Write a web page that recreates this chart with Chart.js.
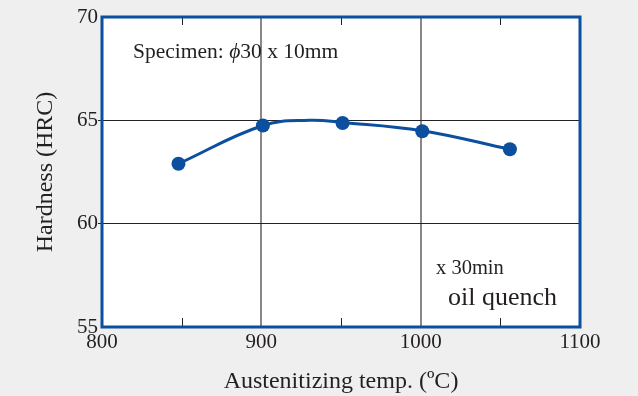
<!DOCTYPE html>
<html><head><meta charset="utf-8">
<script src="https://cdn.jsdelivr.net/npm/chart.js@4/dist/chart.umd.min.js"></script>
<style>html,body{margin:0;padding:0;background:#efefef;}#wrap{width:638px;height:396px;}</style>
</head><body><div id="wrap"><canvas id="c" width="638" height="396"></canvas></div>
<script>
// measured points
const temps = [848, 901, 951, 1001, 1056];
const hardness = [62.9, 64.75, 64.87, 64.47, 63.6];
// fitted curve
const curveTemps = [848, 901, 930, 951, 1001, 1056];
const curveHardness = [62.9, 64.75, 65.0, 64.9, 64.5, 63.6];
const xTicks = [800, 900, 1000, 1100];
const yTicks = [55, 60, 65, 70];
const minorX = [850, 950, 1050];
const xTitle = 'Austenitizing temp. (ºC)';
const yTitle = 'Hardness (HRC)';

const BLUE = '#0b4f9e';
const INK = '#231f20';
const SERIF = '"Liberation Serif", "DejaVu Serif", serif';

const frame = {
  id: 'frame',
  beforeDraw(chart) {
    const {ctx, chartArea: a} = chart;
    ctx.save();
    ctx.fillStyle = '#ffffff';
    ctx.fillRect(a.left, a.top, a.right - a.left, a.bottom - a.top);
    ctx.restore();
  },
  afterDatasetsDraw(chart) {
    const {ctx, chartArea: a, scales: {x}} = chart;
    ctx.save();
    ctx.strokeStyle = '#222'; ctx.lineWidth = 1;
    minorX.forEach(v => {
      const px = Math.round(x.getPixelForValue(v)) + 0.5;
      ctx.beginPath(); ctx.moveTo(px, a.bottom); ctx.lineTo(px, a.bottom - 9); ctx.stroke();
      ctx.beginPath(); ctx.moveTo(px, a.top); ctx.lineTo(px, a.top + 8); ctx.stroke();
    });
    ctx.strokeStyle = BLUE; ctx.lineWidth = 3;
    ctx.strokeRect(a.left, a.top, a.right - a.left, a.bottom - a.top);
    ctx.fillStyle = INK;
    ctx.textBaseline = 'middle';
    const sx = 133, sy = 52;
    ctx.font = '21.5px ' + SERIF;
    ctx.fillText('Specimen: ', sx, sy);
    let w = ctx.measureText('Specimen: ').width;
    ctx.font = 'italic 21.5px ' + SERIF;
    ctx.fillText('ϕ', sx + w, sy);
    w += ctx.measureText('ϕ').width;
    ctx.font = '21.5px ' + SERIF;
    ctx.fillText('30 x 10mm', sx + w, sy);
    ctx.font = '20.5px ' + SERIF;
    ctx.fillText('x 30min', 436, 269);
    ctx.font = '26px ' + SERIF;
    ctx.fillText('oil quench', 448, 298);
    ctx.restore();
  }
};

new Chart(document.getElementById('c'), {
  type: 'line',
  data: {
    datasets: [{
      data: curveTemps.map((t, i) => ({x: t, y: curveHardness[i]})),
      borderColor: BLUE, borderWidth: 3, pointRadius: 0, pointHoverRadius: 0,
      tension: 0.4, cubicInterpolationMode: 'default', fill: false
    }, {
      data: temps.map((t, i) => ({x: t, y: hardness[i]})),
      showLine: false, borderColor: BLUE, backgroundColor: BLUE,
      pointRadius: 7, pointHoverRadius: 7, borderWidth: 0
    }]
  },
  options: {
    responsive: false, animation: false,
    layout: {padding: {top: 17, right: 58, left: 0, bottom: 0}},
    plugins: {legend: {display: false}, tooltip: {enabled: false}},
    scales: {
      x: {
        type: 'linear', min: 800, max: 1100,
        afterBuildTicks: s => { s.ticks = xTicks.map(v => ({value: v})); },
        afterFit: s => { s.height = 69; },
        grid: {color: c => (c.tick && (c.tick.value === 900 || c.tick.value === 1000)) ? '#8c8684' : 'rgba(0,0,0,0)', lineWidth: 2, drawTicks: false},
        border: {display: false},
        ticks: {color: INK, font: {family: SERIF, size: 21}, padding: 3, maxRotation: 0, callback: v => String(v)},
        title: {display: true, text: xTitle, color: INK, font: {family: SERIF, size: 24}, padding: {top: 0, bottom: 0}}
      },
      y: {
        min: 55, max: 70,
        afterBuildTicks: s => { s.ticks = yTicks.map(v => ({value: v})); },
        afterFit: s => { s.width = 102; },
        grid: {color: c => (c.tick && (c.tick.value === 60 || c.tick.value === 65)) ? '#222' : 'rgba(0,0,0,0)', lineWidth: 1, drawTicks: true, tickLength: 4},
        border: {display: false},
        ticks: {color: INK, font: {family: SERIF, size: 21}, padding: 0, callback: v => String(v)},
        title: {display: true, text: yTitle, color: INK, font: {family: SERIF, size: 24}, padding: {top: 31, bottom: 0}}
      }
    }
  },
  plugins: [frame]
});
</script></body></html>
